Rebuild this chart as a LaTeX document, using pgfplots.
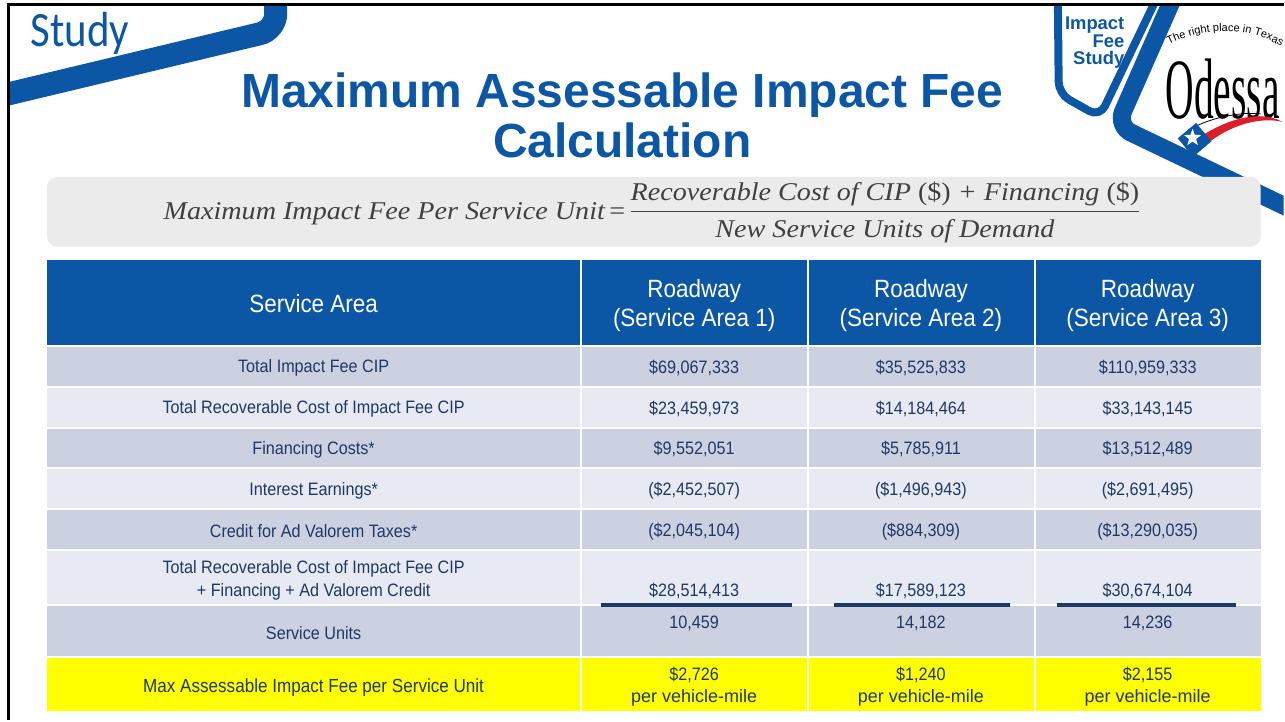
\documentclass[border=0pt]{standalone}
\usepackage{fontspec}
\setmainfont{Liberation Sans}
\newfontfamily\tabfont[FakeStretch=0.9]{Liberation Sans}
\newfontfamily\formfont[FakeStretch=1.1]{Liberation Serif}
\newfontfamily\studyfont{Carlito}
\newfontfamily\odfont[FakeStretch=0.46]{Liberation Serif}
\usepackage{pgfplots}
\pgfplotsset{compat=1.18}
\usetikzlibrary{shapes.geometric,decorations.text}
\definecolor{ofblue}{RGB}{11,87,166}
\definecolor{rowdark}{RGB}{203,209,224}
\definecolor{rowlight}{RGB}{231,234,242}
\definecolor{navy}{RGB}{31,56,100}
\definecolor{barnavy}{RGB}{27,58,102}
\definecolor{boxgray}{RGB}{235,235,235}
\definecolor{formgray}{RGB}{64,64,64}
\definecolor{ofred}{RGB}{220,30,40}
\definecolor{hiyellow}{RGB}{255,255,0}
\tikzset{
 cell/.style={font=\tabfont\fontsize{9}{11.5}\selectfont, text=navy, inner sep=0pt, align=center},
 head/.style={font=\tabfont\fontsize{12.5}{14.5}\selectfont, text=white, inner sep=0pt, align=center},
}
\begin{document}
\begin{tikzpicture}
\begin{axis}[width=642.5pt,height=360.5pt,scale only axis,
  xmin=0,xmax=1285,ymin=0,ymax=721,y dir=reverse,
  axis lines=none,ticks=none,clip=false]
\addplot[draw=none,forget plot] coordinates {(0,0) (1285,721)};
% ---------- decorative frame ----------
\begin{scope}
\clip (10,5) rectangle (1285,721);
\draw[ofblue,line width=11.5pt,rounded corners=8pt] (276,-10) -- (276,30) -- (0,96);
\draw[ofblue,line width=4pt,rounded corners=6pt] (1059,-10) -- (1060,94) -- (1101,117) -- (1162,-10);
\draw[ofblue,line width=9pt,rounded corners=8pt] (1178,-10) -- (1118,126) -- (1300,213);
\end{scope}
\draw[black,line width=1.5pt] (9,721) -- (9,5) -- (1285,5);
% Study label
\node[anchor=base west,inner sep=0pt,text=ofblue,font=\studyfont\fontsize{21.5}{24}\selectfont,yscale=1.15] at (30,47) {Study};
% Impact Fee Study
\node[anchor=north east,inner sep=0pt,text=ofblue,align=right,font=\bfseries\fontsize{9.2}{9}\selectfont] at (1126,16) {Impact\\Fee\\Study};
% Odessa logo
\path[decorate,decoration={text along path,text align=center,
  text={|\fontsize{5.5}{6}\selectfont|The right place in Texas}}]
  (1168,46) .. controls (1205,26) and (1250,26) .. (1285,48);
\node[inner sep=0pt,font=\odfont\fontsize{43}{43}\selectfont,text=black] at (1224,89) {Odessa};
\fill[ofred] (1200,138) .. controls (1230,118) and (1262,110) .. (1284,122)
   .. controls (1262,117) and (1232,124) .. (1206,146) -- cycle;
\draw[black,line width=0.4pt] (1190,130) .. controls (1215,116) and (1245,112) .. (1262,114);
\node[fill=ofblue,rotate=40,minimum size=12pt,inner sep=0pt] at (1196,140) {};
\node[star,star points=5,star point ratio=2.4,fill=white,minimum size=9pt,inner sep=0pt] at (1194,138) {};
% ---------- title ----------
\node[anchor=base,inner sep=0pt,text=ofblue,font=\bfseries\fontsize{24}{25}\selectfont] at (623,108) {Maximum Assessable Impact Fee};
\node[anchor=base,inner sep=0pt,text=ofblue,font=\bfseries\fontsize{24}{25}\selectfont] at (623,158) {Calculation};
% ---------- formula box ----------
\fill[boxgray,rounded corners=5pt] (47,177) rectangle (1262,247);
\node[anchor=base east,inner sep=0pt,text=formgray,font=\formfont\itshape\fontsize{12.8}{14}\selectfont] at (606,220) {Maximum Impact Fee Per Service Unit};
\node[anchor=base,inner sep=0pt,text=formgray,font=\formfont\fontsize{12.8}{14}\selectfont] at (618,220) {=};
\node[anchor=base,inner sep=0pt,text=formgray,font=\formfont\itshape\fontsize{12.8}{14}\selectfont] at (886,201) {Recoverable Cost of CIP {\upshape(\$)} + Financing {\upshape(\$)}};
\draw[formgray,line width=0.7pt] (632,212) -- (1140,212);
\node[anchor=base,inner sep=0pt,text=formgray,font=\formfont\itshape\fontsize{12.8}{14}\selectfont] at (886,238) {New Service Units of Demand};
% ---------- table backgrounds ----------
\fill[ofblue] (47,260) rectangle (1262,345);
\fill[rowdark]  (47,347) rectangle (1262,386);
\fill[rowlight] (47,388) rectangle (1262,427);
\fill[rowdark]  (47,429) rectangle (1262,468);
\fill[rowlight] (47,470) rectangle (1262,509);
\fill[rowdark]  (47,511) rectangle (1262,550);
\fill[rowlight] (47,552) rectangle (1262,605);
\fill[rowdark]  (47,607) rectangle (1262,657);
\fill[hiyellow] (47,659) rectangle (1262,712);
\draw[white,line width=1pt] (582,260) -- (582,712) (809,260) -- (809,712) (1036,260) -- (1036,712);
% ---------- header ----------
\node[head] at (314,304) {Service Area};
\node[head] at (695,306) {Roadway\\(Service Area 1)};
\node[head] at (922,306) {Roadway\\(Service Area 2)};
\node[head] at (1149,306) {Roadway\\(Service Area 3)};
% ---------- rows ----------
\node[cell] at (314,368) {Total Impact Fee CIP};
\node[cell] at (695,368) {\$69,067,333};
\node[cell] at (922,368) {\$35,525,833};
\node[cell] at (1149,368) {\$110,959,333};
\node[cell] at (314,409) {Total Recoverable Cost of Impact Fee CIP};
\node[cell] at (695,409) {\$23,459,973};
\node[cell] at (922,409) {\$14,184,464};
\node[cell] at (1149,409) {\$33,143,145};
\node[cell] at (314,450) {Financing Costs*};
\node[cell] at (695,450) {\$9,552,051};
\node[cell] at (922,450) {\$5,785,911};
\node[cell] at (1149,450) {\$13,512,489};
\node[cell] at (314,491) {Interest Earnings*};
\node[cell] at (695,491) {(\$2,452,507)};
\node[cell] at (922,491) {(\$1,496,943)};
\node[cell] at (1149,491) {(\$2,691,495)};
\node[cell] at (314,532) {Credit for Ad Valorem Taxes*};
\node[cell] at (695,532) {(\$2,045,104)};
\node[cell] at (922,532) {(\$884,309)};
\node[cell] at (1149,532) {(\$13,290,035)};
\node[cell] at (314,581) {Total Recoverable Cost of Impact Fee CIP\\+ Financing + Ad Valorem Credit};
\node[cell] at (695,592) {\$28,514,413};
\node[cell] at (922,592) {\$17,589,123};
\node[cell] at (1149,592) {\$30,674,104};
\draw[barnavy,line width=2pt] (602,606) -- (793,606) (835,606) -- (1011,606) (1058,606) -- (1237,606);
\node[cell] at (314,634) {Service Units};
\node[cell] at (695,624) {10,459};
\node[cell] at (922,624) {14,182};
\node[cell] at (1149,624) {14,236};
\node[cell,font=\tabfont\fontsize{9.5}{11}\selectfont] at (314,688) {Max Assessable Impact Fee per Service Unit};
\node[cell] at (695,676) {\$2,726};
\node[cell] at (922,676) {\$1,240};
\node[cell] at (1149,676) {\$2,155};
\node[cell,font=\fontsize{9}{11}\selectfont] at (695,699) {per vehicle-mile};
\node[cell,font=\fontsize{9}{11}\selectfont] at (922,699) {per vehicle-mile};
\node[cell,font=\fontsize{9}{11}\selectfont] at (1149,699) {per vehicle-mile};
\end{axis}
\end{tikzpicture}
\end{document}
